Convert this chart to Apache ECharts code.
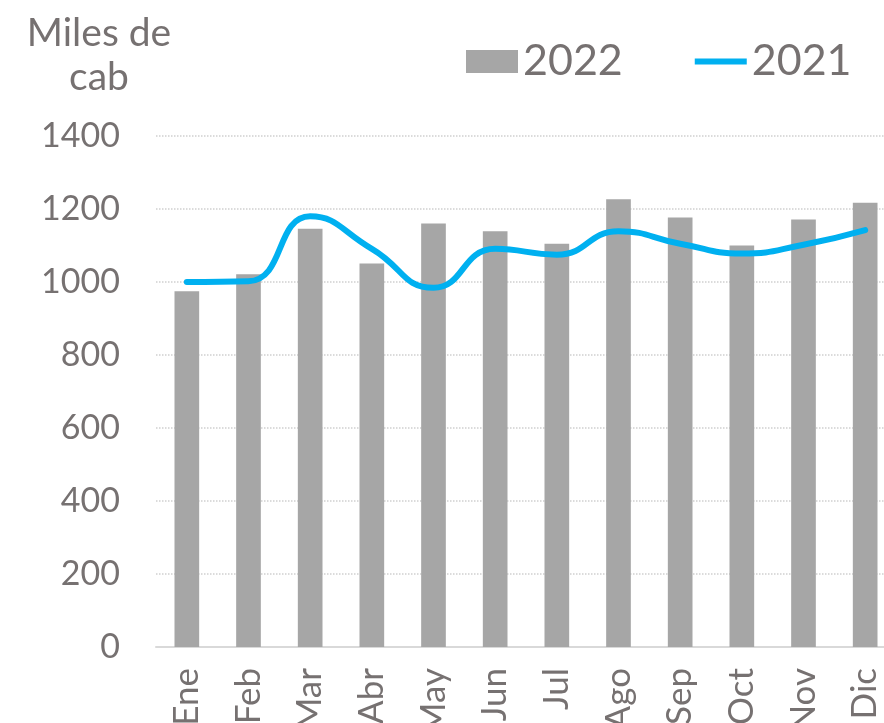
<html lang="es">
<head>
    <meta charset="UTF-8">
    <title>Miles de cab</title>
    <script src="https://cdn.jsdelivr.net/npm/echarts@6/dist/echarts.min.js"></script>
    <style type="text/css">
        html, body {
            margin: 0;
            padding: 0;
            background: #fff;
        }
        #main {
            width: 884px;
            height: 723px;
        }
    </style>
</head>
<body>
<div id="main"></div>
<script>
    var months = ['Ene', 'Feb', 'Mar', 'Abr', 'May', 'Jun', 'Jul', 'Ago', 'Sep', 'Oct', 'Nov', 'Dic'];
    var values2022 = [975, 1021, 1146, 1051, 1160, 1139, 1105, 1227, 1177, 1100, 1171, 1217];
    var values2021 = [1000, 1002, 1180, 1091, 984, 1091, 1075, 1139, 1105, 1078, 1102, 1142];

    var textColor = '#767171';
    var fontName = 'Lato, "Noto Sans", sans-serif';

    var myChart = echarts.init(document.getElementById('main'));
    var option = {
        animation: false,
        backgroundColor: '#fff',
        title: {
            text: 'Miles de\ncab',
            left: 94,
            top: 6,
            textAlign: 'center',
            textStyle: {
                fontFamily: fontName,
                fontSize: 39,
                fontWeight: 'normal',
                color: textColor,
                lineHeight: 44
            }
        },
        legend: {
            left: 461,
            top: 35,
            itemWidth: 52,
            itemHeight: 23,
            itemGap: 72,
            textStyle: {
                fontFamily: fontName,
                fontSize: 43,
                color: textColor
            },
            data: [
                {name: '2022', icon: 'rect'},
                {name: '2021', icon: 'path://M0,0 L52,0 L52,6 L0,6 Z'}
            ]
        },
        grid: {
            left: 156,
            right: -12,
            top: 136,
            bottom: 76,
            containLabel: false,
            outerBoundsMode: 'none'
        },
        xAxis: {
            type: 'category',
            data: months,
            axisTick: {show: false},
            axisLine: {lineStyle: {color: '#d9d9d9', width: 2}},
            axisLabel: {
                rotate: 90,
                margin: 21,
                fontFamily: fontName,
                fontSize: 35,
                color: textColor
            }
        },
        yAxis: {
            type: 'value',
            min: 0,
            max: 1400,
            interval: 200,
            axisLine: {show: false},
            axisTick: {show: false},
            axisLabel: {
                margin: 36,
                fontFamily: fontName,
                fontSize: 34,
                color: textColor,
                formatter: function (v) {
                    return String(v);
                }
            },
            splitLine: {
                lineStyle: {color: '#d0d0d0', type: 'dotted', width: 1.5}
            }
        },
        series: [
            {
                name: '2022',
                type: 'bar',
                data: values2022,
                barWidth: '40%',
                itemStyle: {color: '#a6a6a6'}
            },
            {
                name: '2021',
                type: 'line',
                data: values2021,
                smooth: true,
                symbol: 'none',
                z: 5,
                itemStyle: {color: '#00b0f0'},
                lineStyle: {color: '#00b0f0', width: 6, cap: 'round'}
            }
        ]
    };
    myChart.setOption(option);
</script>
</body>
</html>
